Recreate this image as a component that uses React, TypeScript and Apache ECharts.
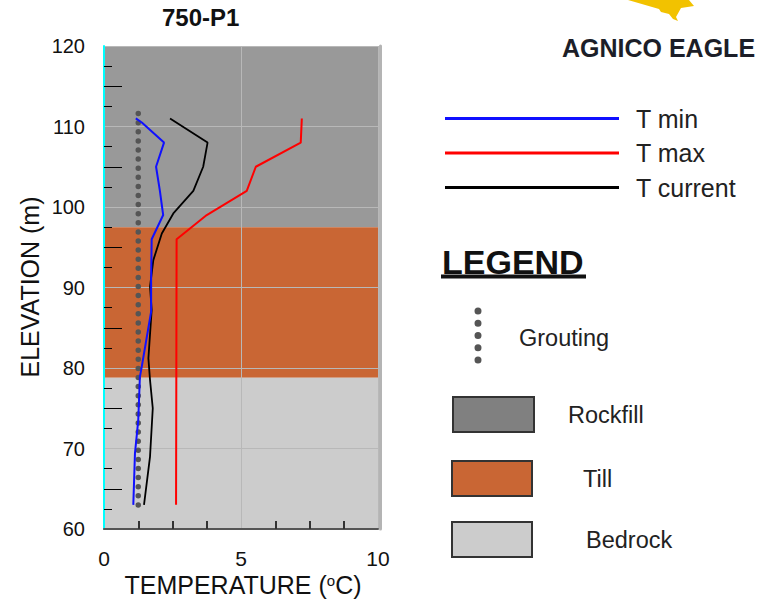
import React, { useEffect, useRef } from 'react';
import * as echarts from 'echarts';

// ---------- data ----------
const chartTitle = '750-P1';
const yAxisName = 'ELEVATION (m)';
const seriesNames = ['T min', 'T max', 'T current'];

// [temperature (°C), elevation (m)]
const tMin: number[][] = [
  [1.16, 111], [1.38, 110.5], [2.19, 108], [1.9, 105], [2.04, 102], [2.16, 99],
  [1.74, 96], [1.72, 91], [1.72, 87], [1.38, 80.2], [1.31, 78.9], [1.25, 73.5],
  [1.13, 69.4], [1.07, 63],
];
const tMax: number[][] = [
  [7.22, 111], [7.18, 108], [5.54, 105], [5.21, 102], [3.75, 99], [2.65, 96], [2.63, 63],
];
const tCurrent: number[][] = [
  [2.41, 111], [3.78, 108], [3.62, 105], [3.26, 102], [2.53, 99.2], [2.11, 96.7],
  [1.8, 93.4], [1.68, 90.1], [1.74, 87.2], [1.62, 81.2], [1.68, 78.5], [1.78, 75],
  [1.68, 69], [1.46, 63],
];
const grouting: number[][] = [[1.25, 111.6], [1.25, 61.9]];

const layerNames = ['Rockfill', 'Till', 'Bedrock'];
const layerTop = [120, 97.5, 78.8];
const layerBottom = [97.5, 78.8, 60];

const xMinorTicks = [1.25, 2.5, 3.75, 6.25, 7.5, 8.75];
const yLongTicks = [65, 75, 85, 95, 105, 115];
const yShortTicks = [62.5, 67.5, 72.5, 77.5, 82.5, 87.5, 92.5, 97.5, 102.5, 107.5, 112.5, 117.5];

// ---------- styles ----------
const FONT = '"Liberation Sans", Arial, Helvetica, sans-serif';
const layerColors = ['#999999', '#C96634', '#CCCCCC'];
const layerBoxColors = ['#808080', '#C96634', '#CCCCCC'];
const lineColors = ['#1010ff', '#ff0000', '#000000'];
const gridColor = '#b8b8b8';

export default function App() {
  const ref = useRef<HTMLDivElement>(null);

  useEffect(() => {
    if (!ref.current) return;
    const chart = echarts.init(ref.current, undefined, { renderer: 'svg' });

    const boxY = [397, 461, 522];
    const boxX = [453, 452, 452];
    const boxW = [81, 80, 80];
    const labelX = [568, 583, 586];
    const legendLineY = [118.5, 153, 187.5];

    const graphics: any[] = [
      {
        type: 'text', x: 30, y: 287, rotation: Math.PI / 2,
        style: { text: yAxisName, fontSize: 25, fontFamily: FONT, fill: '#111', align: 'center', verticalAlign: 'middle' },
      },
      {
        type: 'text', x: 243, y: 585,
        style: {
          text: '{a|TEMPERATURE (}{s|o}{a|C)}',
          align: 'center', verticalAlign: 'middle',
          rich: {
            a: { fontSize: 25, fontFamily: FONT, fill: '#111' },
            s: { fontSize: 15, fontFamily: FONT, fill: '#111', verticalAlign: 'top' },
          },
        },
      },
      {
        type: 'text', x: 442, y: 262,
        style: { text: 'LEGEND', fontSize: 34, fontWeight: 'bold', fontFamily: FONT, fill: '#111', align: 'left', verticalAlign: 'middle' },
      },
      { type: 'rect', shape: { x: 441, y: 274.5, width: 145, height: 4 }, style: { fill: '#111' } },
      {
        type: 'line', shape: { x1: 478, y1: 311, x2: 478, y2: 360.2 },
        style: { stroke: '#555', lineWidth: 7, lineDash: [0, 12.25], lineCap: 'round' },
      },
      {
        type: 'text', x: 519, y: 338,
        style: { text: 'Grouting', fontSize: 23.5, fontFamily: FONT, fill: '#222', align: 'left', verticalAlign: 'middle' },
      },
      {
        type: 'polygon',
        shape: { points: [[628, 0], [689, 0], [694, 6], [681, 8], [676, 17], [678, 21], [673, 19], [669, 14], [661, 12], [659, 9]] },
        style: { fill: '#F2C200' },
      },
      {
        type: 'text', x: 562, y: 47.5,
        style: { text: 'AGNICO EAGLE', fontSize: 25, fontWeight: 'bold', fontFamily: FONT, fill: '#1c1e28', align: 'left', verticalAlign: 'middle' },
      },
    ];

    seriesNames.forEach((n, i) => {
      graphics.push({
        type: 'line', shape: { x1: 445, y1: legendLineY[i], x2: 619, y2: legendLineY[i] },
        style: { stroke: lineColors[i], lineWidth: 3 },
      });
      graphics.push({
        type: 'text', x: 636, y: legendLineY[i],
        style: { text: n, fontSize: 25, fontFamily: FONT, fill: '#222', align: 'left', verticalAlign: 'middle' },
      });
    });

    layerNames.forEach((n, i) => {
      graphics.push({
        type: 'rect', shape: { x: boxX[i], y: boxY[i], width: boxW[i], height: 35 },
        style: { fill: layerBoxColors[i], stroke: '#333', lineWidth: 2 },
      });
      graphics.push({
        type: 'text', x: labelX[i], y: boxY[i] + 18,
        style: { text: n, fontSize: 23.5, fontFamily: FONT, fill: '#222', align: 'left', verticalAlign: 'middle' },
      });
    });

    const hiddenY = {
      type: 'value', min: 60, max: 120, position: 'left', z: 3,
      axisLine: { show: false }, axisLabel: { show: false }, splitLine: { show: false },
    };

    chart.setOption({
      animation: false,
      backgroundColor: '#ffffff',
      title: {
        text: chartTitle, left: 162, top: 5, padding: 0,
        textStyle: { fontSize: 24, fontWeight: 'bold', color: '#111', fontFamily: FONT },
      },
      grid: { left: 104, top: 46, width: 274, height: 483, show: false },
      xAxis: [
        {
          type: 'value', min: 0, max: 10, interval: 5, position: 'bottom', z: 3,
          axisLine: { show: true, onZero: false, lineStyle: { color: '#555', width: 2 } },
          axisTick: { show: true, inside: true, length: 8, customValues: xMinorTicks, lineStyle: { color: '#333', width: 2 } },
          axisLabel: { fontSize: 21, color: '#111', margin: 19, fontFamily: FONT },
          splitLine: { show: false },
        },
        {
          type: 'value', min: 0, max: 10, interval: 5, position: 'top', z: 2,
          axisLine: { show: true, onZero: false, lineStyle: { color: '#b4b4b4', width: 1 } },
          axisTick: { show: false }, axisLabel: { show: false },
          splitLine: { show: true, lineStyle: { color: gridColor, width: 1 } },
        },
      ],
      yAxis: [
        {
          type: 'value', min: 60, max: 120, interval: 10, position: 'left', z: 3,
          axisLine: { show: true, onZero: false, lineStyle: { color: '#00ffff', width: 2 } },
          axisTick: { show: false },
          axisLabel: { fontSize: 20, color: '#111', margin: 19, fontFamily: FONT },
          splitLine: { show: true, lineStyle: { color: gridColor, width: 1 } },
        },
        {
          ...hiddenY,
          axisTick: { show: true, inside: true, length: 18, customValues: yLongTicks, lineStyle: { color: '#000', width: 1 } },
        },
        {
          ...hiddenY,
          axisTick: { show: true, inside: true, length: 8, customValues: yShortTicks, lineStyle: { color: '#000', width: 1 } },
        },
        {
          type: 'value', min: 60, max: 120, position: 'right', offset: 2, z: 3,
          axisLine: { show: true, onZero: false, lineStyle: { color: '#b4b4b4', width: 3 } },
          axisTick: { show: false }, axisLabel: { show: false }, splitLine: { show: false },
        },
      ],
      series: [
        {
          name: 'Layers', type: 'line', data: [], z: 1, silent: true,
          markArea: {
            silent: true, z: 1, label: { show: false },
            data: layerNames.map((n, i) => [
              { name: n, yAxis: layerTop[i], itemStyle: { color: layerColors[i], opacity: 1 } },
              { yAxis: layerBottom[i] },
            ]),
          },
        },
        {
          name: 'Grouting', type: 'line', data: grouting, symbol: 'none', z: 4,
          lineStyle: { color: '#555', width: 5.5, type: [0, 9.1], cap: 'round' },
        },
        {
          name: seriesNames[2], type: 'line', data: tCurrent, symbol: 'none', z: 5,
          lineStyle: { color: lineColors[2], width: 1.8 },
        },
        {
          name: seriesNames[0], type: 'line', data: tMin, symbol: 'none', z: 5,
          lineStyle: { color: lineColors[0], width: 2 },
        },
        {
          name: seriesNames[1], type: 'line', data: tMax, symbol: 'none', z: 5,
          lineStyle: { color: lineColors[1], width: 2 },
        },
      ],
      graphic: graphics,
    });

    return () => chart.dispose();
  }, []);

  return (
    <div
      ref={ref}
      style={{ position: 'fixed', left: 0, top: 0, width: 759, height: 603, background: '#fff' }}
    />
  );
}
